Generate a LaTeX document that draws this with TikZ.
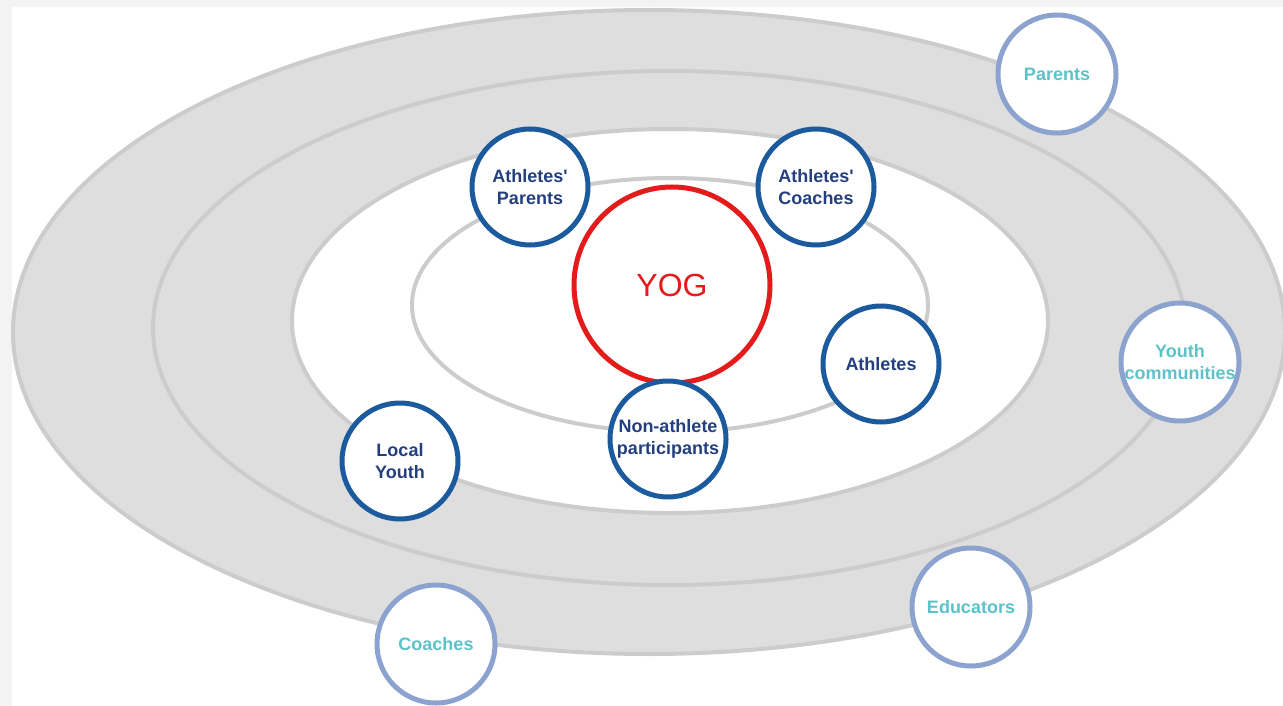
\documentclass[tikz,border=0pt]{standalone}
\usepackage{fontspec}
\setmainfont{Liberation Sans}
\definecolor{bandfill}{HTML}{DEDEDE}
\definecolor{ringline}{HTML}{CCCCCC}
\definecolor{yogred}{HTML}{E31B1B}
\definecolor{navyline}{HTML}{1B5A9C}
\definecolor{navytext}{HTML}{233F7E}
\definecolor{lightline}{HTML}{8CA3CF}
\definecolor{tealtext}{HTML}{5CC2CA}
\definecolor{framegray}{HTML}{F3F3F3}
\tikzset{
  ring/.style={draw=ringline, line width=4pt},
  inner/.style={circle, draw=navyline, line width=5pt, fill=white, minimum size=116pt, inner sep=0pt,
    text=navytext, font=\fontsize{18}{22}\selectfont\bfseries, align=center},
  outer/.style={circle, draw=lightline, line width=5pt, fill=white, minimum size=118pt, inner sep=0pt,
    text=tealtext, font=\fontsize{18}{22}\selectfont\bfseries, align=center},
  core/.style={circle, draw=yogred, line width=5pt, fill=white, minimum size=196pt, inner sep=0pt,
    text=yogred, font=\fontsize{32}{36}\selectfont},
}
\begin{document}
\begin{tikzpicture}[x=1pt,y=-1pt]
\useasboundingbox (0,0) rectangle (1283,706);
\fill[framegray] (0,0) rectangle (1283,706);
\fill[white] (12,7) rectangle (1283,706);
% rings
\draw[ring, fill=bandfill] (649,332) ellipse [x radius=636pt, y radius=322pt];
\draw[ring, fill=bandfill] (669,328) ellipse [x radius=516pt, y radius=257pt];
\draw[ring, fill=white] (670,321) ellipse [x radius=378pt, y radius=192pt];
\draw[ring, fill=white] (670,305) ellipse [x radius=258pt, y radius=127pt];
% centre
\node[core] (yog) at (672,285) {YOG};
% inner groups
\node[inner] (aparents) at (530,187) {Athletes\textquotesingle\\Parents};
\node[inner] (acoaches) at (816,187) {Athletes\textquotesingle\\Coaches};
\node[inner] (athletes) at (881,364) {Athletes};
\node[inner] (nonath) at (668,439) {Non-athlete\\participants};
\node[inner] (localyouth) at (400,461) {Local\\Youth};
% outer groups
\node[outer] (parents) at (1057,74) {Parents};
\node[outer] (youthcom) at (1180,362) {Youth\\communities};
\node[outer] (educators) at (971,607) {Educators};
\node[outer] (coaches) at (436,644) {Coaches};
\end{tikzpicture}
\end{document}
